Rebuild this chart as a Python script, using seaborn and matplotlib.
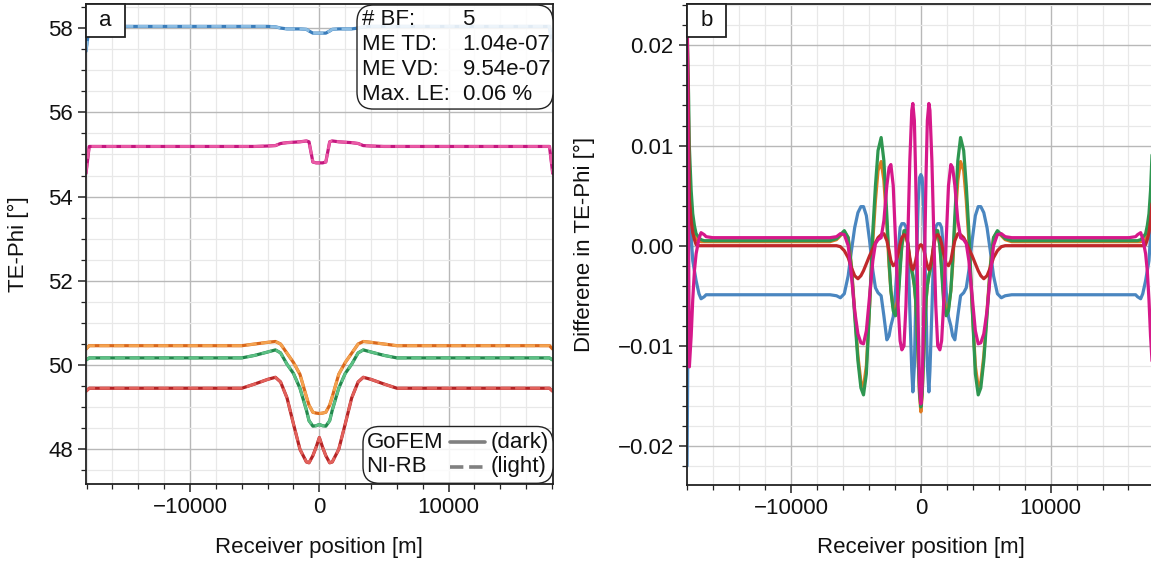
import numpy as np
import pandas as pd
import matplotlib
matplotlib.use("Agg")
import matplotlib.pyplot as plt
from matplotlib.ticker import MultipleLocator
from matplotlib.lines import Line2D
from matplotlib.patches import Rectangle, FancyBboxPatch
import seaborn as sns

# ---------------- data: panel a (TE-Phi) ----------------
xa_half = [-18050, -17800, -6000, -5000, -4000, -3400, -3000, -2500, -2000,
           -1500, -1000, -800, -500, -250, 0]
blue_a_half = [57.45, 58.04, 58.04, 58.04, 58.04, 58.03, 58.00, 57.98, 57.98,
               57.98, 57.97, 57.93, 57.88, 57.88, 57.88]
magenta_a_half = [54.55, 55.19, 55.19, 55.19, 55.20, 55.21, 55.26, 55.28, 55.29,
                  55.30, 55.32, 55.30, 54.82, 54.80, 54.80]
orange_a_half = [50.38, 50.46, 50.46, 50.50, 50.54, 50.56, 50.50, 50.28, 50.06,
                 49.78, 49.25, 49.05, 48.88, 48.86, 48.85]
green_a_half = [50.12, 50.17, 50.17, 50.23, 50.31, 50.36, 50.29, 50.02, 49.80,
                49.45, 48.93, 48.68, 48.55, 48.56, 48.59]
red_a_half = [49.38, 49.45, 49.45, 49.55, 49.66, 49.71, 49.60, 49.22, 48.60,
              48.00, 47.70, 47.68, 47.85, 48.05, 48.28]

# ---------------- data: panel b (difference) ----------------
xb_half = [-18020, -17900, -17840, -17700, -17580, -17450, -17320, -17100, -16940,
           -16700, -16550, -16040, -7000, -6500, -6200, -5900, -5600, -5350, -5100,
           -4850, -4620, -4420, -4200, -3950, -3700, -3500, -3300, -3060, -2850,
           -2620, -2450, -2310, -2130, -1950, -1750, -1600, -1465, -1300, -1150,
           -1000, -850, -700, -617, -500, -400, -300, -200, -100, 0]
blue_b_half = [-0.0220, 0.0000, 0.0046, 0.0010, -0.0015, -0.0025, -0.0035, -0.0048, -0.0053,
               -0.0051, -0.0049, -0.0049, -0.0049, -0.0050, -0.0052, -0.0048, -0.0030, -0.0005, 0.0018,
               0.0033, 0.0039, 0.0039, 0.0030, 0.0005, -0.0025, -0.0042, -0.0047, -0.0050, -0.0070,
               -0.0094, -0.0090, -0.0080, -0.0071, -0.0045, -0.0005, 0.0018, 0.0022, 0.0022, 0.0019,
               0.0000, -0.0065, -0.0125, -0.0146, -0.0120, -0.0060, 0.0000, 0.0045, 0.0068, 0.0071]
orange_b_half = [0.0200, 0.0080, 0.0040, 0.0025, 0.0015, 0.0010, 0.0006, 0.0005, 0.0004,
                 0.0004, 0.0004, 0.0004, 0.0004, 0.0006, 0.0010, 0.0014, 0.0008, -0.0020, -0.0065,
                 -0.0110, -0.0136, -0.0141, -0.0120, -0.0060, 0.0005, 0.0045, 0.0075, 0.0084, 0.0065,
                 0.0020, -0.0020, -0.0045, -0.0062, -0.0066, -0.0050, -0.0020, 0.0000, 0.0012, 0.0012,
                 0.0000, -0.0015, -0.0025, -0.0030, -0.0040, -0.0055, -0.0080, -0.0115, -0.0150, -0.0166]
green_b_half = [0.0220, 0.0150, 0.0099, 0.0055, 0.0032, 0.0020, 0.0012, 0.0008, 0.0006,
                0.0005, 0.0005, 0.0005, 0.0005, 0.0007, 0.0011, 0.0015, 0.0008, -0.0022, -0.0070,
                -0.0115, -0.0142, -0.0149, -0.0128, -0.0060, 0.0015, 0.0060, 0.0095, 0.0108, 0.0085,
                0.0030, -0.0015, -0.0045, -0.0065, -0.0070, -0.0055, -0.0025, 0.0000, 0.0015, 0.0015,
                0.0002, -0.0015, -0.0025, -0.0030, -0.0040, -0.0055, -0.0080, -0.0115, -0.0148, -0.0161]
red_b_half = [0.0240, 0.0120, 0.0046, 0.0025, 0.0013, 0.0006, 0.0001, 0.0000, 0.0000,
              0.0000, 0.0000, 0.0000, 0.0000, 0.0000, -0.0001, -0.0005, -0.0012, -0.0022, -0.0030,
              -0.0033, -0.0030, -0.0025, -0.0018, -0.0010, -0.0003, 0.0003, 0.0008, 0.0011, 0.0012,
              0.0005, -0.0005, -0.0015, -0.0020, -0.0018, -0.0008, 0.0002, 0.0008, 0.0011, 0.0010,
              0.0002, -0.0012, -0.0022, -0.0024, -0.0020, -0.0015, -0.0008, -0.0003, 0.0000, 0.0001]
magenta_b_half = [0.0260, 0.0000, -0.0121, -0.0090, -0.0054, -0.0025, -0.0008, 0.0007, 0.0013,
                  0.0011, 0.0009, 0.0008, 0.0008, 0.0009, 0.0012, 0.0011, 0.0000, -0.0030, -0.0065,
                  -0.0088, -0.0097, -0.0098, -0.0085, -0.0050, -0.0015, 0.0002, 0.0006, 0.0008, 0.0025,
                  0.0060, 0.0078, 0.0081, 0.0060, 0.0005, -0.0060, -0.0095, -0.0104, -0.0100, -0.0060,
                  0.0010, 0.0085, 0.0135, 0.0142, 0.0125, 0.0070, -0.0005, -0.0080, -0.0140, -0.0158]

stat_names = ["# BF:", "ME TD:", "ME VD:", "Max. LE:"]
stat_values = ["5", "1.04e-07", "9.54e-07", "0.06 %"]
method_names = ["GoFEM", "NI-RB"]
method_shades = ["(dark)", "(light)"]


def mirror_x(h):
    return list(h) + [-v for v in reversed(h[:-1])]


def mirror_y(h):
    return list(h) + list(reversed(h[:-1]))


xa = mirror_x(xa_half)
xb = mirror_x(xb_half)

dark = {"blue": "#3a7dbb", "magenta": "#c4177f", "orange": "#d9681c",
        "green": "#23884d", "red": "#b52425"}
light = {"blue": "#8cbde3", "magenta": "#ea5aa5", "orange": "#f4a24f",
         "green": "#5cc084", "red": "#e2615b"}
colb = {"blue": "#4a86c0", "orange": "#e07a1f", "green": "#2e9650",
        "red": "#c0282a", "magenta": "#d6188a"}

series_a = {"blue": blue_a_half, "magenta": magenta_a_half, "orange": orange_a_half,
            "green": green_a_half, "red": red_a_half}
series_b = {"blue": blue_b_half, "orange": orange_b_half, "green": green_b_half,
            "red": red_b_half, "magenta": magenta_b_half}

FS = 16
sns.set_theme(style="ticks")
plt.rcParams["font.family"] = ["Liberation Sans", "DejaVu Sans"]
plt.rcParams["font.size"] = FS
plt.rcParams["axes.edgecolor"] = "#222222"

fig = plt.figure(figsize=(11.51, 5.63), dpi=100)
ax1 = fig.add_axes([0.0747, 0.1398, 0.4055, 0.853])
ax2 = fig.add_axes([0.5969, 0.1385, 0.4063, 0.8538])

for name, half in series_a.items():
    y = mirror_y(half)
    sns.lineplot(x=xa, y=y, ax=ax1, color=dark[name], lw=2.3, estimator=None, sort=False)
    sns.lineplot(x=xa, y=y, ax=ax1, color=light[name], lw=2.0, linestyle="--",
                 estimator=None, sort=False)

for name, half in series_b.items():
    y = mirror_y(half)
    sns.lineplot(x=xb, y=y, ax=ax2, color=colb[name], lw=2.3, estimator=None, sort=False)

ax1.set_xlim(-18050, 18050)
ax1.set_ylim(47.17, 58.57)
ax2.set_xlim(-18020, 18020)
ax2.set_ylim(-0.0239, 0.0241)

ax1.yaxis.set_major_locator(MultipleLocator(2))
ax1.yaxis.set_minor_locator(MultipleLocator(0.5))
ax2.yaxis.set_major_locator(MultipleLocator(0.01))
ax2.yaxis.set_minor_locator(MultipleLocator(0.002))
for ax in (ax1, ax2):
    ax.xaxis.set_major_locator(MultipleLocator(10000))
    ax.xaxis.set_minor_locator(MultipleLocator(2000))
    ax.grid(which="major", color="#b8b8b8", lw=1.0)
    ax.grid(which="minor", color="#e8e8e8", lw=0.9)
    ax.set_axisbelow(True)
    ax.tick_params(which="major", direction="out", length=6, width=1.1, labelsize=FS,
                   left=True, bottom=True, top=False, right=False, color="#222222",
                   labelcolor="#111111")
    ax.tick_params(which="minor", direction="out", length=3.5, width=0.9,
                   left=True, bottom=True, top=False, right=False, color="#222222")
    for s in ax.spines.values():
        s.set_visible(True)
        s.set_linewidth(1.3)
    ax.set_xlabel("Receiver position [m]", fontsize=FS, labelpad=13, color="#111111")

ax1.set_ylabel("TE-Phi [°]", fontsize=FS, labelpad=14, color="#111111")
ax2.set_ylabel("Differene in TE-Phi [°]", fontsize=FS, labelpad=16, color="#111111")

# panel letters in square boxes at the top-left corner
for ax, lab, wpx, hpx in ((ax1, "a", 466.7, 480.3), (ax2, "b", 467.7, 480.7)):
    w, h = 39.0 / wpx, 33.0 / hpx
    ax.add_patch(Rectangle((0, 1 - h), w, h, transform=ax.transAxes, fc="white",
                           ec="#222222", lw=1.3, zorder=10, clip_on=False))
    ax.text(w / 2, 1 - h / 2, lab, transform=ax.transAxes, ha="center", va="center",
            fontsize=FS, zorder=11, color="#111111")

# stats box (upper right of panel a)
AXW, AXH = 466.7, 480.3   # panel a size in pixels
AX0, AXT = 86.0, 4.0


def fx(px):
    return (px - AX0) / AXW


def fy(py):
    return 1 - (py - AXT) / AXH


box_kw = dict(boxstyle="round,pad=0,rounding_size=0.035", fc="white", ec="none",
              alpha=0.85, transform=ax1.transAxes, zorder=12, clip_on=False)
edge_kw = dict(boxstyle="round,pad=0,rounding_size=0.035", fc="none", ec="#222222",
               lw=1.0, transform=ax1.transAxes, zorder=13, clip_on=False)

ax1.add_patch(FancyBboxPatch((fx(357), fy(109)), fx(553) - fx(357), fy(5) - fy(109), **box_kw))
ax1.add_patch(FancyBboxPatch((fx(357), fy(109)), fx(553) - fx(357), fy(5) - fy(109), **edge_kw))
for i, (nm, val) in enumerate(zip(stat_names, stat_values)):
    yc = fy(19.5 + 25.0 * i)
    ax1.text(fx(362.5), yc, nm, transform=ax1.transAxes, ha="left", va="center",
             fontsize=FS, zorder=14, color="#111111")
    ax1.text(fx(462.5), yc, val, transform=ax1.transAxes, ha="left", va="center",
             fontsize=FS, zorder=14, color="#111111")

# method legend (lower right of panel a)
ax1.add_patch(FancyBboxPatch((fx(363), fy(483.3)), fx(553) - fx(363),
                             fy(426.5) - fy(483.3), **box_kw))
ax1.add_patch(FancyBboxPatch((fx(363), fy(483.3)), fx(553) - fx(363),
                             fy(426.5) - fy(483.3), **edge_kw))
for i, (nm, shade, ls) in enumerate(zip(method_names, method_shades, ["-", "--"])):
    yc = fy(442.5 + 24.5 * i)
    ax1.text(fx(366.5), yc, nm, transform=ax1.transAxes, ha="left", va="center",
             fontsize=FS, zorder=14, color="#111111")
    ax1.add_line(Line2D([fx(450), fx(485)], [yc, yc], transform=ax1.transAxes,
                        color="#808080", lw=2.6, ls=ls, zorder=14, clip_on=False))
    ax1.text(fx(490.5), yc, shade, transform=ax1.transAxes, ha="left", va="center",
             fontsize=FS, zorder=14, color="#111111")

fig.savefig("out.png", dpi=100, facecolor="white")
